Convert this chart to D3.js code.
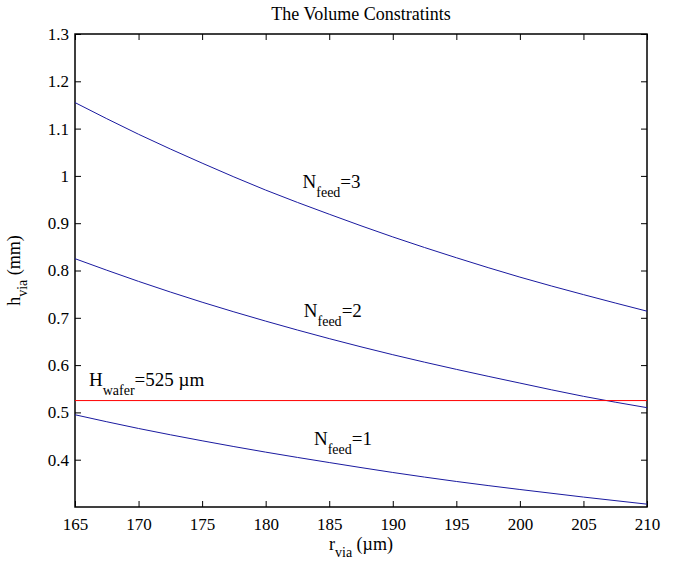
<!DOCTYPE html>
<html>
<head>
<meta charset="utf-8">
<script src="https://cdn.jsdelivr.net/npm/d3@7"></script>
<style>
  body { margin: 0; background: #fff; }
</style>
</head>
<body>
<div id="chart"></div>
<script>
// radius of the via (um)
const rVia = [165, 170, 175, 180, 185, 190, 195, 200, 205, 210];

// via height (mm) for each feed count
const hFeed1 = [0.495, 0.466, 0.440, 0.416, 0.394, 0.373, 0.354, 0.337, 0.321, 0.306];
const hFeed2 = [0.825, 0.777, 0.733, 0.693, 0.656, 0.622, 0.591, 0.562, 0.534, 0.510];
const hFeed3 = [1.155, 1.088, 1.027, 0.970, 0.919, 0.871, 0.827, 0.786, 0.749, 0.714];

// wafer thickness (mm)
const hWafer = 0.525;

const xTicks = [165, 170, 175, 180, 185, 190, 195, 200, 205, 210];
const yTicks = [0.4, 0.5, 0.6, 0.7, 0.8, 0.9, 1, 1.1, 1.2, 1.3];

// curve labels, anchored in data units: [r, h, main, sub, tail]
const labels = [
  [182.9, 0.975, 'N', 'feed', '=3'],
  [183.0, 0.702, 'N', 'feed', '=2'],
  [183.8, 0.431, 'N', 'feed', '=1'],
  [166.1, 0.556, 'H', 'wafer', '=525 \u00b5m']
];

const FONT = '"Liberation Serif", "Times New Roman", Times, serif';

const config = {
  width: 677,
  height: 561,
  margin: {top: 34, right: 30, bottom: 54, left: 75},
  tickLen: 6
};

const innerW = config.width - config.margin.left - config.margin.right;
const innerH = config.height - config.margin.top - config.margin.bottom;

const svg = d3.select('#chart').append('svg')
    .attr('width', config.width)
    .attr('height', config.height)
    .attr('font-family', FONT);

const chart = svg.append('g')
    .attr('transform', `translate(${config.margin.left},${config.margin.top})`);

const xScale = d3.scaleLinear().domain([165, 210]).range([0, innerW]);
const yScale = d3.scaleLinear().domain([0.3, 1.3]).range([innerH, 0]);

// axes, ticks pointing inward like matlab
const fmtY = d => String(+d.toFixed(1));

const xAxis = chart.append('g')
    .attr('transform', `translate(0,${innerH})`)
    .call(d3.axisBottom(xScale).tickValues(xTicks).tickSize(-config.tickLen).tickPadding(11).tickSizeOuter(0));
const xTop = chart.append('g')
    .call(d3.axisTop(xScale).tickValues(xTicks).tickSize(-config.tickLen).tickFormat('').tickSizeOuter(0));
const yAxis = chart.append('g')
    .call(d3.axisLeft(yScale).tickValues(yTicks).tickSize(-config.tickLen).tickPadding(6).tickFormat(fmtY).tickSizeOuter(0));
const yRight = chart.append('g')
    .attr('transform', `translate(${innerW},0)`)
    .call(d3.axisRight(yScale).tickValues(yTicks).tickSize(-config.tickLen).tickFormat('').tickSizeOuter(0));

[xAxis, xTop, yAxis, yRight].forEach(a => {
  a.attr('font-family', FONT).attr('font-size', 17);
  a.select('.domain').remove();
  a.selectAll('.tick line').attr('stroke', '#000').attr('stroke-width', 1);
  a.selectAll('.tick text').attr('fill', '#000').style('font-family', FONT).style('font-size', '17px');
});

// box
chart.append('rect')
    .attr('width', innerW)
    .attr('height', innerH)
    .attr('fill', 'none')
    .attr('stroke', '#000')
    .attr('stroke-width', 1.5);

const line = d3.line()
    .x((d, i) => xScale(rVia[i]))
    .y(d => yScale(d))
    .curve(d3.curveMonotoneX);

[hFeed1, hFeed2, hFeed3].forEach(series => {
  chart.append('path')
      .datum(series)
      .attr('d', line)
      .attr('fill', 'none')
      .attr('stroke', '#1a1aa0')
      .attr('stroke-width', 1);
});

chart.append('line')
    .attr('x1', xScale(165))
    .attr('x2', xScale(210))
    .attr('y1', yScale(hWafer))
    .attr('y2', yScale(hWafer))
    .attr('stroke', '#ff0000')
    .attr('stroke-width', 1);

// labels with subscripts
labels.forEach(l => {
  const t = chart.append('text')
      .attr('x', xScale(l[0]))
      .attr('y', yScale(l[1]))
      .style('font-family', FONT)
      .style('font-size', '19px');
  t.append('tspan').text(l[2]);
  t.append('tspan').attr('dy', 9).style('font-size', '14px').text(l[3]);
  t.append('tspan').attr('dy', -9).text(l[4]);
});

// title
svg.append('text')
    .attr('x', config.margin.left + innerW / 2)
    .attr('y', 20)
    .attr('text-anchor', 'middle')
    .style('font-family', FONT)
    .style('font-size', '18px')
    .text('The Volume Constratints');

// x label
const xl = svg.append('text')
    .attr('x', config.margin.left + innerW / 2)
    .attr('y', 550)
    .attr('text-anchor', 'middle')
    .style('font-family', FONT)
    .style('font-size', '18px');
xl.append('tspan').text('r');
xl.append('tspan').attr('dy', 7).style('font-size', '14px').text('via');
xl.append('tspan').attr('dy', -7).text(' (\u00b5m)');

// y label
const yl = svg.append('text')
    .attr('transform', `translate(20,${config.margin.top + innerH / 2}) rotate(-90)`)
    .attr('text-anchor', 'middle')
    .style('font-family', FONT)
    .style('font-size', '18px');
yl.append('tspan').text('h');
yl.append('tspan').attr('dy', 7).style('font-size', '14px').text('via');
yl.append('tspan').attr('dy', -7).text(' (mm)');
</script>
</body>
</html>
